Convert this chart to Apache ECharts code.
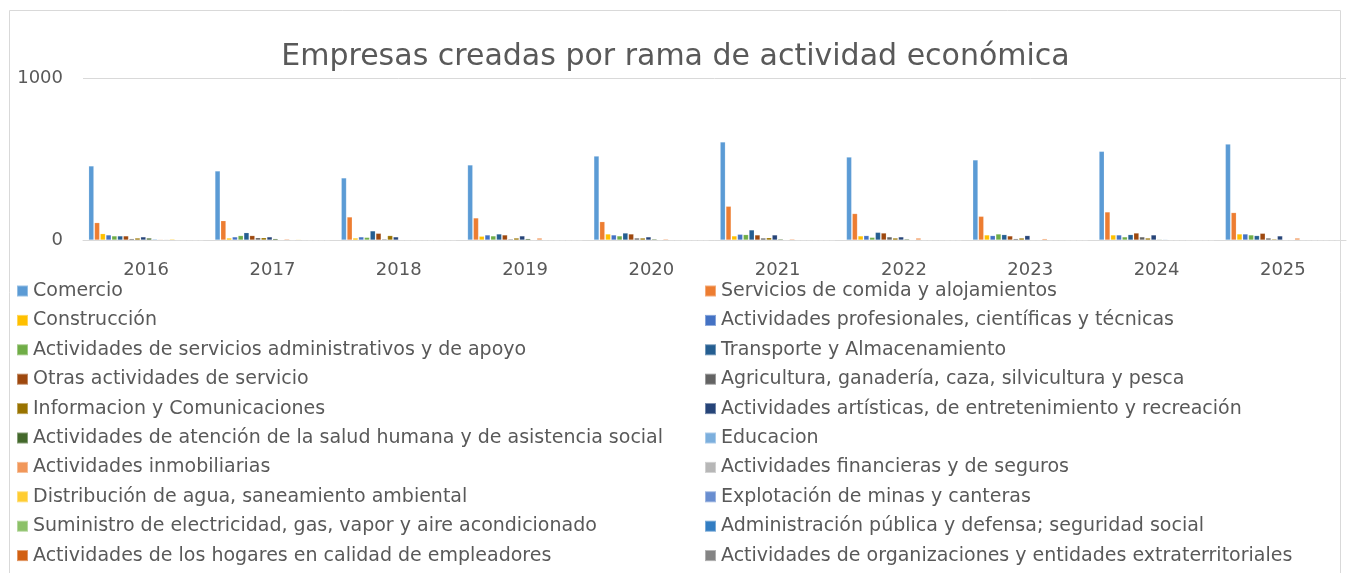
<!DOCTYPE html>
<html>
<head>
<meta charset="utf-8">
<script src="https://cdn.jsdelivr.net/npm/echarts@6/dist/echarts.min.js"></script>
<style>
  html, body { margin: 0; padding: 0; background: #fff; }
  #chart { width: 1351px; height: 573px; }
</style>
</head>
<body>
<div id="chart"></div>
<script>
const years = ['2016', '2017', '2018', '2019', '2020', '2021', '2022', '2023', '2024', '2025']

// series names in legend order
const names = [
  'Comercio',
  'Servicios de comida y alojamientos',
  'Construcción',
  'Actividades profesionales, científicas y técnicas',
  'Actividades de servicios administrativos y de apoyo',
  'Transporte y Almacenamiento',
  'Otras actividades de servicio',
  'Agricultura, ganadería, caza, silvicultura y pesca',
  'Informacion y Comunicaciones',
  'Actividades artísticas, de entretenimiento y recreación',
  'Actividades de atención de la salud humana y de asistencia social',
  'Educacion',
  'Actividades inmobiliarias',
  'Actividades financieras y de seguros',
  'Distribución de agua, saneamiento ambiental',
  'Explotación de minas y canteras',
  'Suministro de electricidad, gas, vapor y aire acondicionado',
  'Administración pública y defensa; seguridad social',
  'Actividades de los hogares en calidad de empleadores',
  'Actividades de organizaciones y entidades extraterritoriales'
]

const colors = ['#5B9BD5', '#ED7D31', '#FFC000', '#4472C4', '#70AD47', '#255E91', '#9E480E', '#636363', '#997300', '#264478',
  '#43682B', '#7CAFDD', '#F1975A', '#B7B7B7', '#FFCD33', '#698ED0', '#8CC168', '#327DC2', '#D26012', '#848484']

// values per year, one array per series
const comercio = [457, 426, 383, 463, 518, 605, 512, 494, 547, 592]
const comida = [107, 119, 142, 136, 113, 208, 163, 146, 173, 169]
const construccion = [39, 12, 12, 23, 37, 25, 25, 31, 31, 37]
const profesionales = [31, 19, 19, 31, 31, 35, 27, 27, 31, 37]
const administrativos = [25, 27, 16, 25, 25, 33, 16, 37, 19, 31]
const transporte = [25, 45, 56, 37, 43, 62, 47, 33, 33, 27]
const otras = [25, 27, 41, 31, 37, 31, 43, 25, 43, 41]
const agricultura = [8, 14, 6, 6, 12, 12, 19, 8, 19, 12]
const informacion = [12, 14, 27, 12, 12, 14, 12, 12, 12, 6]
const artisticas = [19, 19, 19, 25, 19, 31, 19, 27, 31, 25]
const salud = [12, 8, 2, 8, 6, 6, 6, 2, 4, 2]
const educacion = [6, 1, 1, 1, 2, 2, 1, 1, 4, 2]
const inmobiliarias = [4, 6, 1, 12, 6, 6, 12, 8, 2, 12]
const financieras = [4, 2, 1, 2, 1, 2, 2, 2, 2, 1]
const agua = [6, 4, 1, 1, 1, 1, 2, 3, 1, 1]
const minas = [1, 1, 0, 0, 0, 1, 3, 1, 0, 0]
const electricidad = [1, 0, 0, 0, 0, 0, 1, 0, 0, 0]
const adminPublica = [1, 0, 0, 0, 0, 0, 0, 0, 0, 0]
const hogares = [0, 0, 0, 0, 0, 0, 0, 0, 0, 0]
const organizaciones = [0, 0, 0, 0, 0, 0, 0, 0, 0, 0]

const values = [comercio, comida, construccion, profesionales, administrativos, transporte, otras, agricultura,
  informacion, artisticas, salud, educacion, inmobiliarias, financieras, agua, minas, electricidad, adminPublica,
  hogares, organizaciones]

const textColor = '#595959'
const font = 'DejaVu Sans'

const legendBase = {
  orient: 'vertical',
  top: 276,
  height: 400,
  itemWidth: 11,
  itemHeight: 11,
  itemGap: 9.4,
  icon: 'rect',
  selectedMode: false,
  textStyle: { color: textColor, fontSize: 19, fontFamily: font, lineHeight: 20 }
}

const chart = echarts.init(document.getElementById('chart'))
chart.setOption({
  animation: false,
  color: colors,
  graphic: [{
    type: 'rect',
    shape: { x: 9.5, y: 10.5, width: 1331, height: 580 },
    style: { fill: 'none', stroke: '#D9D9D9', lineWidth: 1 },
    silent: true
  }],
  title: {
    text: 'Empresas creadas por rama de actividad económica',
    left: 'center',
    top: 37,
    textStyle: { color: textColor, fontSize: 30, fontWeight: 'normal', fontFamily: font }
  },
  legend: [
    Object.assign({}, legendBase, { left: 11, data: names.filter((n, i) => i % 2 === 0) }),
    Object.assign({}, legendBase, { left: 699, data: names.filter((n, i) => i % 2 === 1) })
  ],
  grid: { left: 83, right: 5, top: 78, height: 162, containLabel: false },
  xAxis: {
    type: 'category',
    data: years,
    axisLine: { lineStyle: { color: '#D9D9D9' } },
    axisTick: { show: false },
    axisLabel: { color: textColor, fontSize: 18, fontFamily: font, margin: 21 }
  },
  yAxis: {
    type: 'value',
    min: 0,
    max: 1000,
    interval: 1000,
    axisLine: { show: false },
    axisTick: { show: false },
    splitLine: { lineStyle: { color: '#D9D9D9' } },
    axisLabel: { color: textColor, fontSize: 18, fontFamily: font, margin: 20, formatter: v => String(v) }
  },
  series: names.map((name, i) => ({
    name: name,
    type: 'bar',
    data: values[i],
    barGap: '12%',
    barCategoryGap: '9%',
    itemStyle: { borderColor: 'rgba(255,255,255,0.35)', borderWidth: 0.5 }
  }))
})
</script>
</body>
</html>
